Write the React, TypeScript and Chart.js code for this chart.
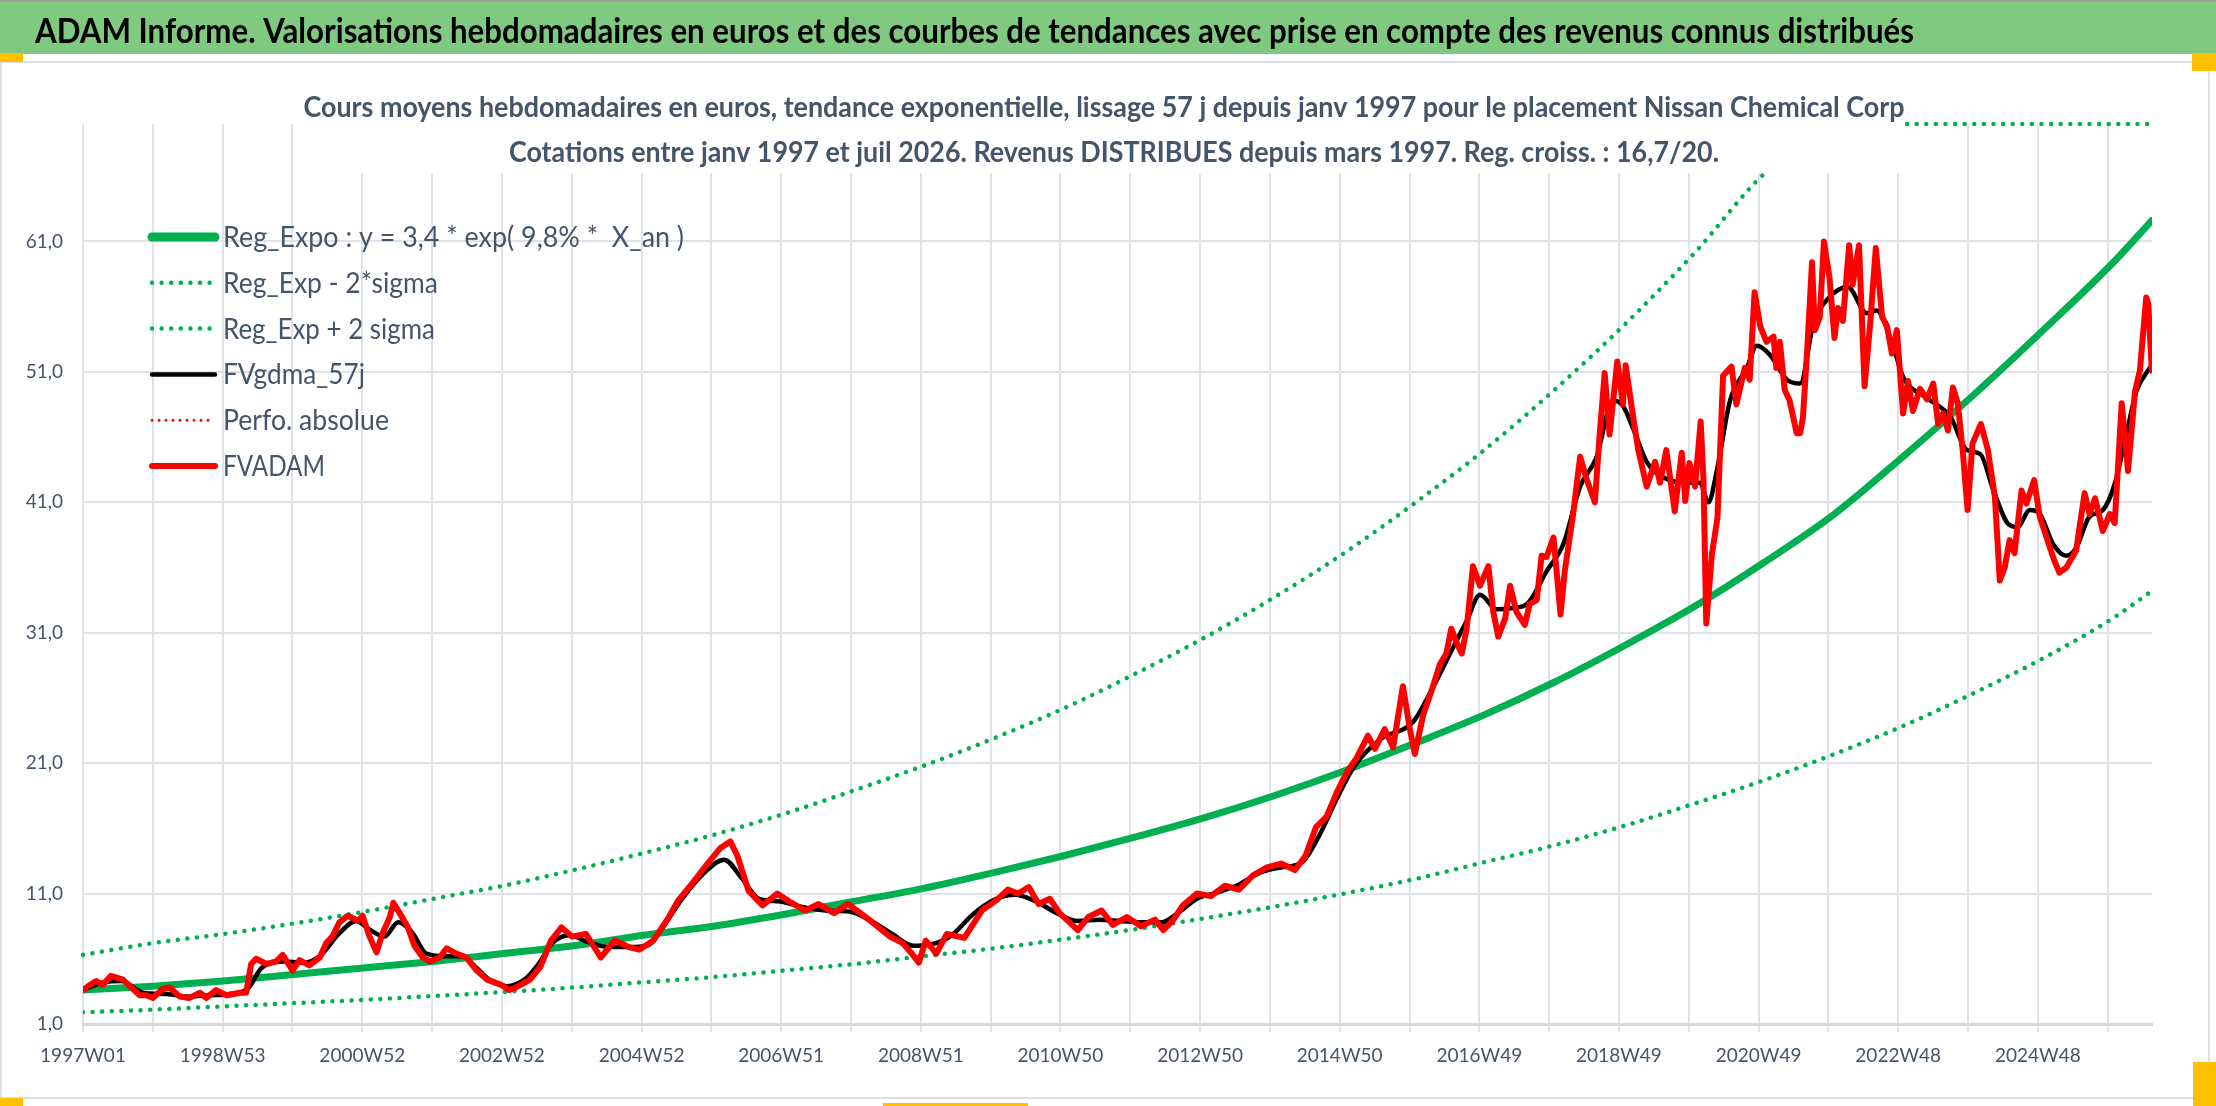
import { useEffect, useRef } from 'react';
import { Chart, registerables } from 'chart.js';

Chart.register(...registerables);

const WEEKS_PER_YEAR = 52.18;
const LAST_WEEK = 1541;

const TICK_LABELS = [
  '1997W01', '1998W53', '2000W52', '2002W52', '2004W52', '2006W51', '2008W51', '2010W50',
  '2012W50', '2014W50', '2016W49', '2018W49', '2020W49', '2022W48', '2024W48',
];
const Y_TICKS = [1, 11, 21, 31, 41, 51, 61];

const TITLE =
  'ADAM Informe. Valorisations hebdomadaires en euros et des courbes de tendances avec prise en compte des revenus connus distribués';
const SUBTITLE = [
  'Cours moyens hebdomadaires en euros, tendance exponentielle, lissage 57 j depuis janv 1997 pour le placement Nissan Chemical Corp',
  'Cotations entre janv 1997 et juil 2026. Revenus DISTRIBUES depuis mars 1997. Reg. croiss. : 16,7/20.',
];

// trend curves, read once a year
const TREND_YEARS = [
  1997, 1998, 1999, 2000, 2001, 2002, 2003, 2004, 2005, 2006, 2007, 2008, 2009, 2010, 2011,
  2012, 2013, 2014, 2015, 2016, 2017, 2018, 2019, 2020, 2021, 2022, 2023, 2024, 2025, 2026, 2026.53,
];
const REG_EXPO = [
  3.6, 3.9, 4.3, 4.8, 5.3, 5.8, 6.4, 7.0, 7.8, 8.5, 9.4, 10.4, 11.4, 12.6, 13.9,
  15.3, 16.8, 18.5, 20.4, 22.5, 24.7, 27.2, 30.0, 33.0, 36.4, 40.1, 44.6, 49.3, 54.3, 59.5, 62.6,
];
const REG_MINUS = [
  1.9, 2.1, 2.35, 2.6, 2.85, 3.15, 3.45, 3.8, 4.2, 4.6, 5.1, 5.6, 6.2, 6.8, 7.5,
  8.25, 9.1, 10.0, 11.0, 12.1, 13.4, 14.7, 16.2, 17.9, 19.7, 21.7, 23.9, 26.4, 29.1, 32.2, 34.2,
];
const REG_PLUS = [
  6.3, 7.2, 7.9, 8.7, 9.6, 10.6, 11.6, 12.8, 14.1, 15.5, 17.1, 18.9, 20.8, 22.9, 25.2,
  27.8, 30.6, 33.7, 37.1, 40.9, 45.0, 49.6, 54.6, 60.1, 66.2, 70, 70, 70, 70, 70, 70,
];

// [year, value]
const FVGDMA_57J = [
  [1997.0, 3.6], [1997.3, 4.2], [1997.55, 4.3], [1997.85, 3.4], [1998.2, 3.3], [1998.5, 3.1],
  [1998.8, 3.2], [1999.1, 3.3], [1999.35, 3.7], [1999.55, 5.3], [1999.85, 5.8], [2000.15, 5.7],
  [2000.4, 6.3], [2000.65, 7.9], [2000.9, 8.9], [2001.1, 8.2], [2001.3, 7.7], [2001.5, 8.8],
  [2001.7, 8.0], [2001.9, 6.4], [2002.15, 6.2], [2002.4, 6.2], [2002.6, 5.4], [2002.8, 4.4],
  [2003.05, 3.9], [2003.3, 4.4], [2003.5, 5.6], [2003.7, 7.2], [2003.95, 7.8], [2004.2, 7.3],
  [2004.5, 6.9], [2004.8, 6.9], [2005.05, 7.0], [2005.3, 8.6], [2005.55, 10.6], [2005.85, 12.5],
  [2006.15, 13.6], [2006.4, 12.2], [2006.65, 10.6], [2006.95, 10.4], [2007.25, 10.0], [2007.6, 9.7],
  [2007.95, 9.6], [2008.25, 8.9], [2008.55, 7.9], [2008.85, 7.0], [2009.1, 7.1], [2009.4, 7.8],
  [2009.7, 9.4], [2010.0, 10.5], [2010.3, 10.9], [2010.6, 10.4], [2010.9, 9.5], [2011.2, 8.9],
  [2011.5, 9.0], [2011.8, 8.9], [2012.1, 8.8], [2012.4, 8.8], [2012.65, 9.6], [2012.9, 10.6],
  [2013.2, 11.1], [2013.5, 11.7], [2013.8, 12.6], [2014.1, 13.0], [2014.4, 13.4], [2014.65, 15.5],
  [2014.9, 18.3], [2015.15, 20.8], [2015.51, 22.8], [2015.99, 24.2], [2016.22, 26.3], [2016.56, 29.9],
  [2016.75, 31.9], [2016.94, 33.9], [2017.18, 32.8], [2017.41, 32.9], [2017.61, 33.2], [2017.89, 35.7],
  [2018.13, 37.8], [2018.37, 42.2], [2018.6, 44.4], [2018.84, 48.8], [2018.98, 48.4], [2019.13, 46.6],
  [2019.32, 44.1], [2019.6, 42.8], [2019.89, 42.5], [2020.08, 42.5], [2020.2, 41.0], [2020.32, 43.4],
  [2020.51, 48.8], [2020.75, 51.3], [2020.89, 53.0], [2021.08, 52.3], [2021.32, 50.4], [2021.51, 50.1],
  [2021.7, 54.7], [2021.89, 56.5], [2022.19, 57.5], [2022.46, 55.5], [2022.6, 55.7], [2022.83, 53.1],
  [2022.98, 50.6], [2023.32, 49.0], [2023.66, 47.5], [2023.89, 45.0], [2024.08, 44.7], [2024.27, 41.9],
  [2024.47, 39.4], [2024.61, 39.1], [2024.79, 40.4], [2024.93, 40.1], [2025.12, 37.8], [2025.31, 36.9],
  [2025.45, 37.5], [2025.64, 39.9], [2025.83, 40.4], [2026.0, 42.4], [2026.17, 46.3], [2026.31, 49.5],
  [2026.5, 51.3],
];

const FVADAM = [
  [1997.0, 3.6], [1997.1, 4.0], [1997.19, 4.3], [1997.28, 4.0], [1997.4, 4.7], [1997.57, 4.4],
  [1997.71, 3.7], [1997.81, 3.2], [1997.9, 3.2], [1998.0, 3.0], [1998.14, 3.7], [1998.24, 3.8],
  [1998.38, 3.1], [1998.52, 3.0], [1998.67, 3.4], [1998.76, 3.0], [1998.9, 3.6], [1999.05, 3.2],
  [1999.24, 3.4], [1999.33, 3.4], [1999.4, 5.6], [1999.47, 6.0], [1999.62, 5.6], [1999.76, 5.8],
  [1999.85, 6.3], [1999.99, 5.1], [2000.09, 5.9], [2000.23, 5.5], [2000.38, 6.1], [2000.47, 7.2],
  [2000.56, 7.7], [2000.66, 8.8], [2000.78, 9.3], [2000.93, 8.9], [2000.99, 9.3], [2001.09, 7.7],
  [2001.19, 6.5], [2001.28, 8.0], [2001.38, 9.2], [2001.43, 10.3], [2001.52, 9.5], [2001.64, 8.4],
  [2001.73, 7.0], [2001.85, 6.1], [2001.95, 5.8], [2002.09, 6.1], [2002.19, 6.8], [2002.33, 6.4],
  [2002.47, 6.1], [2002.62, 5.1], [2002.77, 4.4], [2002.97, 4.0], [2003.08, 3.6], [2003.18, 3.8],
  [2003.38, 4.4], [2003.53, 5.4], [2003.68, 7.4], [2003.83, 8.4], [2003.98, 7.7], [2004.18, 7.9],
  [2004.39, 6.1], [2004.59, 7.4], [2004.79, 6.9], [2004.94, 6.7], [2005.14, 7.4], [2005.34, 9.0],
  [2005.5, 10.5], [2005.7, 11.8], [2005.9, 13.2], [2006.1, 14.5], [2006.24, 15.0], [2006.34, 13.9],
  [2006.5, 11.2], [2006.7, 10.1], [2006.91, 11.0], [2007.11, 10.3], [2007.31, 9.7], [2007.5, 10.2],
  [2007.72, 9.5], [2007.92, 10.2], [2008.22, 9.0], [2008.52, 7.7], [2008.7, 7.2], [2008.83, 6.4],
  [2008.93, 5.7], [2009.03, 7.4], [2009.18, 6.4], [2009.33, 7.9], [2009.58, 7.6], [2009.83, 9.7],
  [2010.04, 10.5], [2010.2, 11.3], [2010.35, 11.0], [2010.5, 11.5], [2010.64, 10.2], [2010.8, 10.6],
  [2010.94, 9.5], [2011.2, 8.2], [2011.35, 9.2], [2011.54, 9.7], [2011.7, 8.6], [2011.9, 9.2],
  [2012.1, 8.5], [2012.3, 9.0], [2012.42, 8.2], [2012.55, 8.9], [2012.7, 10.1], [2012.9, 11.0],
  [2013.1, 10.8], [2013.3, 11.6], [2013.5, 11.3], [2013.7, 12.4], [2013.9, 13.0], [2014.1, 13.3],
  [2014.3, 12.8], [2014.45, 13.9], [2014.6, 16.1], [2014.75, 16.9], [2014.9, 18.8], [2015.05, 20.4],
  [2015.18, 21.4], [2015.34, 23.1], [2015.44, 22.1], [2015.58, 23.6], [2015.7, 22.2], [2015.84, 26.9],
  [2015.94, 23.6], [2016.01, 21.7], [2016.13, 24.7], [2016.27, 26.9], [2016.37, 28.6], [2016.46, 29.4],
  [2016.53, 31.3], [2016.61, 30.2], [2016.68, 29.4], [2016.75, 31.3], [2016.84, 36.1], [2016.94, 34.6],
  [2017.06, 36.1], [2017.13, 32.6], [2017.2, 30.7], [2017.3, 32.1], [2017.37, 34.6], [2017.46, 32.6],
  [2017.58, 31.6], [2017.65, 33.2], [2017.75, 33.5], [2017.82, 36.9], [2017.89, 36.8], [2017.99, 38.3],
  [2018.09, 32.4], [2018.15, 35.7], [2018.27, 40.1], [2018.37, 44.5], [2018.46, 42.8], [2018.58, 41.0],
  [2018.65, 46.3], [2018.72, 50.9], [2018.79, 46.2], [2018.9, 51.8], [2018.98, 48.5], [2019.02, 51.5],
  [2019.13, 47.4], [2019.2, 45.0], [2019.32, 42.2], [2019.44, 44.1], [2019.51, 42.5], [2019.6, 45.0],
  [2019.72, 40.3], [2019.82, 44.8], [2019.87, 41.1], [2019.93, 44.0], [2020.01, 42.2], [2020.09, 47.2],
  [2020.13, 42.8], [2020.17, 31.7], [2020.25, 37.0], [2020.33, 39.8], [2020.41, 50.7], [2020.53, 51.4],
  [2020.6, 48.5], [2020.72, 51.3], [2020.79, 50.4], [2020.86, 57.1], [2020.94, 54.5], [2021.03, 53.3],
  [2021.13, 53.7], [2021.17, 51.3], [2021.22, 53.3], [2021.29, 49.6], [2021.36, 48.8], [2021.46, 46.3],
  [2021.51, 46.3], [2021.55, 47.5], [2021.61, 52.6], [2021.68, 59.4], [2021.72, 54.2], [2021.79, 55.2],
  [2021.85, 61.0], [2021.93, 58.2], [2022.0, 53.6], [2022.05, 55.9], [2022.12, 54.9], [2022.21, 60.7],
  [2022.26, 57.7], [2022.35, 60.7], [2022.43, 49.9], [2022.51, 54.7], [2022.59, 60.5], [2022.68, 55.2],
  [2022.75, 54.5], [2022.82, 52.4], [2022.89, 54.2], [2022.98, 47.8], [2023.05, 50.3], [2023.12, 48.0],
  [2023.22, 49.7], [2023.32, 48.9], [2023.41, 50.1], [2023.48, 47.0], [2023.55, 47.8], [2023.62, 46.5],
  [2023.69, 49.8], [2023.76, 48.6], [2023.83, 45.0], [2023.9, 40.4], [2023.97, 45.5], [2024.09, 47.0],
  [2024.19, 45.0], [2024.29, 41.4], [2024.36, 35.0], [2024.43, 36.0], [2024.5, 38.1], [2024.57, 37.1],
  [2024.67, 41.9], [2024.74, 40.9], [2024.85, 42.7], [2024.93, 39.9], [2025.04, 38.1], [2025.14, 36.5],
  [2025.21, 35.6], [2025.31, 36.0], [2025.45, 37.3], [2025.57, 41.7], [2025.64, 40.1], [2025.72, 41.3],
  [2025.83, 38.8], [2025.93, 40.1], [2026.0, 39.4], [2026.1, 48.6], [2026.19, 43.4], [2026.29, 49.5],
  [2026.36, 51.1], [2026.45, 56.7], [2026.48, 56.2], [2026.53, 51.1],
];

const FONT = 'Lato, "Open Sans", sans-serif';
const TEXT_COLOR = '#44546A';
const GRID_COLOR = '#dfe3e9';
const GREEN = '#00B050';

const week = (year: number) => (year - 1997) * WEEKS_PER_YEAR;
const trend = (values: number[]) => TREND_YEARS.map((yr, i) => ({ x: week(yr), y: values[i] }));
const pairs = (list: number[][]) => list.map(([yr, v]) => ({ x: week(yr), y: v }));

function fitText(ctx: CanvasRenderingContext2D, text: string, x: number, y: number, width: number, align: CanvasTextAlign) {
  const w = ctx.measureText(text).width;
  ctx.save();
  ctx.translate(x, y);
  ctx.scale(width / w, 1);
  ctx.textAlign = align;
  ctx.fillText(text, 0, 0);
  ctx.restore();
}

// page background, green title bar, panel border
const framePlugin = {
  id: 'frame',
  beforeDraw(chart: any) {
    const ctx = chart.ctx;
    ctx.save();
    ctx.fillStyle = '#ffffff';
    ctx.fillRect(0, 0, chart.width, chart.height);
    ctx.fillStyle = '#9d9d9d';
    ctx.fillRect(0, 0, chart.width, 2);
    ctx.fillStyle = '#80c980';
    ctx.fillRect(0, 2, chart.width, 52);
    ctx.fillStyle = '#000000';
    ctx.font = `bold 34px ${FONT}`;
    ctx.textBaseline = 'alphabetic';
    fitText(ctx, TITLE, 35, 43, 1879, 'left');
    ctx.strokeStyle = '#dde1e7';
    ctx.lineWidth = 2;
    ctx.strokeRect(1, 62, 2208, 1036);
    ctx.fillStyle = '#ffc000';
    ctx.fillRect(0, 53, 23, 9);
    ctx.fillRect(2192, 53, 24, 18);
    ctx.fillRect(0, 1098, 23, 8);
    ctx.fillRect(883, 1103, 145, 3);
    ctx.fillRect(2193, 1062, 23, 44);
    ctx.restore();
  },
};

// chart title (white box over the plot) and legend inside the plot
const overlayPlugin = {
  id: 'overlay',
  afterDatasetsDraw(chart: any) {
    const ctx = chart.ctx;
    ctx.save();
    ctx.fillStyle = '#ffffff';
    ctx.fillRect(300, 64, 1605, 109);
    ctx.fillStyle = TEXT_COLOR;
    ctx.font = `bold 29px ${FONT}`;
    ctx.textBaseline = 'alphabetic';
    fitText(ctx, SUBTITLE[0], 1104, 117, 1601, 'center');
    fitText(ctx, SUBTITLE[1], 1114, 162, 1210, 'center');

    chart.data.datasets.forEach((ds: any, i: number) => {
      const y = 237 + i * 45.8;
      ctx.save();
      ctx.strokeStyle = ds.borderColor;
      ctx.lineWidth = ds.legendWidth || ds.borderWidth;
      ctx.lineCap = 'round';
      ctx.setLineDash(ds.borderDash || []);
      ctx.beginPath();
      ctx.moveTo(152, y);
      ctx.lineTo(215, y);
      ctx.stroke();
      ctx.restore();

      ctx.save();
      ctx.font = `28px ${FONT}`;
      ctx.fillStyle = TEXT_COLOR;
      ctx.textBaseline = 'middle';
      fitText(ctx, ds.label, 223, y + 1, ds.legendTextWidth, 'left');
      ctx.restore();
    });
    ctx.restore();
  },
};

function AdamChart() {
  const canvasRef = useRef<HTMLCanvasElement>(null);
  const chartRef = useRef<Chart | null>(null);

  useEffect(() => {
    if (!canvasRef.current) return;

    if (chartRef.current) {
      chartRef.current.destroy();
    }

    const ctx = canvasRef.current.getContext('2d');
    if (!ctx) return;

    const tickFont = { family: FONT, size: 19 };

    chartRef.current = new Chart(ctx, {
      type: 'line',
      data: {
        datasets: [
          {
            label: 'Reg_Expo : y = 3,4 * exp( 9,8% *  X_an )',
            legendTextWidth: 461,
            data: trend(REG_EXPO),
            borderColor: GREEN,
            borderWidth: 7,
            legendWidth: 9,
            borderCapStyle: 'round',
            cubicInterpolationMode: 'monotone',
            pointRadius: 0,
            order: 6,
          },
          {
            label: 'Reg_Exp - 2*sigma',
            legendTextWidth: 215,
            data: trend(REG_MINUS),
            borderColor: GREEN,
            borderWidth: 4.5,
            borderDash: [0.001, 9.6],
            borderCapStyle: 'round',
            cubicInterpolationMode: 'monotone',
            pointRadius: 0,
            order: 5,
          },
          {
            label: 'Reg_Exp + 2 sigma',
            legendTextWidth: 212,
            data: trend(REG_PLUS),
            borderColor: GREEN,
            borderWidth: 4.5,
            borderDash: [0.001, 9.6],
            borderCapStyle: 'round',
            cubicInterpolationMode: 'monotone',
            pointRadius: 0,
            clip: false,
            order: 4,
          },
          {
            label: 'FVgdma_57j',
            legendTextWidth: 142,
            data: pairs(FVGDMA_57J),
            borderColor: '#000000',
            borderWidth: 4.5,
            borderCapStyle: 'round',
            cubicInterpolationMode: 'monotone',
            pointRadius: 0,
            order: 3,
          },
          {
            label: 'Perfo. absolue',
            legendTextWidth: 166,
            data: [],
            borderColor: '#FF0000',
            borderWidth: 3,
            borderDash: [0.001, 7],
            pointRadius: 0,
            order: 2,
          },
          {
            label: 'FVADAM',
            legendTextWidth: 102,
            data: pairs(FVADAM),
            borderColor: '#FF0000',
            borderWidth: 6,
            borderJoinStyle: 'round',
            borderCapStyle: 'round',
            pointRadius: 0,
            order: 1,
          },
        ] as any,
      },
      options: {
        animation: false,
        responsive: false,
        events: [],
        layout: { padding: { left: 0, right: 64, top: 124, bottom: 0 } },
        plugins: {
          legend: { display: false },
          title: { display: false },
          tooltip: { enabled: false },
        },
        scales: {
          x: {
            type: 'linear',
            min: 0,
            max: LAST_WEEK,
            afterBuildTicks: (scale: any) => {
              scale.ticks = Array.from({ length: 30 }, (_, k) => ({ value: k * 52 }));
            },
            afterFit: (scale: any) => {
              scale.height = 82;
            },
            grid: { color: GRID_COLOR, lineWidth: 2, drawTicks: true, tickLength: 8, tickColor: GRID_COLOR },
            border: { display: true, color: '#d5d9df', width: 3 },
            ticks: {
              autoSkip: false,
              maxRotation: 0,
              padding: 12,
              color: TEXT_COLOR,
              font: tickFont,
              callback: (v: any) => (v % 104 === 0 ? TICK_LABELS[v / 104] : ''),
            },
          },
          y: {
            min: 1,
            max: 70,
            afterBuildTicks: (scale: any) => {
              scale.ticks = Y_TICKS.map((v) => ({ value: v }));
            },
            afterFit: (scale: any) => {
              scale.width = 83;
            },
            grid: { color: GRID_COLOR, lineWidth: 2, drawTicks: false },
            border: { display: false },
            ticks: {
              padding: 20,
              color: TEXT_COLOR,
              font: tickFont,
              callback: (v: any) => Number(v).toFixed(1).replace('.', ','),
            },
          },
        },
      } as any,
      plugins: [framePlugin, overlayPlugin],
    });

    return () => {
      if (chartRef.current) {
        chartRef.current.destroy();
        chartRef.current = null;
      }
    };
  }, []);

  return <canvas ref={canvasRef} width={2216} height={1106} style={{ display: 'block' }} />;
}

export default function App() {
  return (
    <div style={{ width: 2216, height: 1106, background: '#ffffff' }}>
      <style>{'body { margin: 0; }'}</style>
      <AdamChart />
    </div>
  );
}
